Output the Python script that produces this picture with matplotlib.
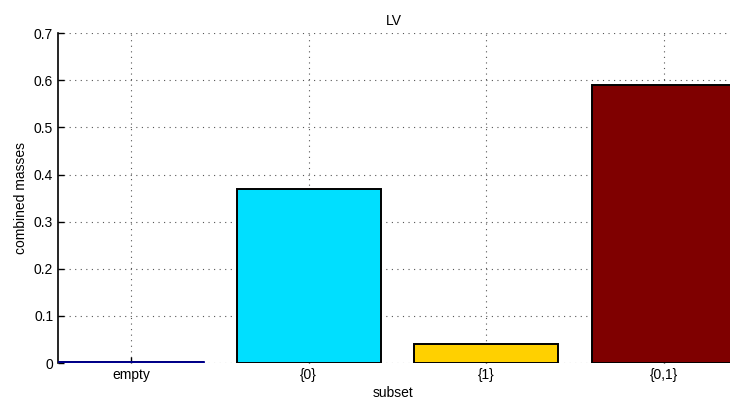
import matplotlib.pyplot as plt

subsets = ["empty", "{0}", "{1}", "{0,1}"]
masses = [0.002, 0.37, 0.04, 0.59]
colors = ["#00008f", "#00dfff", "#ffd000", "#7f0000"]
yticks = [0, 0.1, 0.2, 0.3, 0.4, 0.5, 0.6, 0.7]

plt.rcParams['font.family'] = ['Liberation Sans', 'DejaVu Sans']
plt.rcParams['font.size'] = 10

fig = plt.figure(figsize=(7.3, 4.08), dpi=100)
# the axes run a little past the right edge of the figure, as in the original
ax = fig.add_axes([0.0795, 0.110, 0.930, 0.809])

pos = list(range(1, len(subsets) + 1))
ax.bar(pos, masses, width=0.81, color=colors, edgecolor="black", linewidth=1.4, zorder=3)
# the empty bar is only a thin coloured line
ax.bar(pos[0], masses[0], width=0.81, color=colors[0], edgecolor=colors[0], linewidth=2, zorder=3)

ax.set_xlim(0.59, 4.41)
ax.set_ylim(0, 0.7)
ax.set_xticks(pos)
ax.set_xticklabels(subsets)
ax.set_yticks(yticks)
ax.set_yticklabels(["0"] + [f"{v:.1f}" for v in yticks[1:]])

ax.grid(True, linestyle=(0, (1, 4)), color="#555555", linewidth=0.8, zorder=0)
ax.set_axisbelow(True)
for side in ["top", "right", "bottom"]:
    ax.spines[side].set_visible(False)
ax.spines["left"].set_linewidth(1.2)
ax.tick_params(direction="in", length=4, width=1)

ax.set_title("LV", fontsize=10, x=0.494)
ax.set_xlabel("subset", labelpad=3, x=0.494)
ax.set_ylabel("combined masses")

fig.savefig("out.png", dpi=100)
